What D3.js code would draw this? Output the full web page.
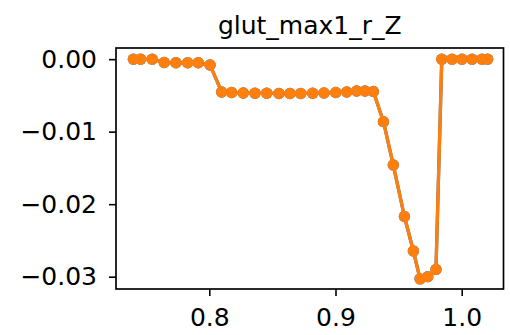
<!DOCTYPE html>
<html>
<head>
<meta charset="utf-8">
<script src="https://cdn.jsdelivr.net/npm/d3@7"></script>
<style>
  html, body { margin: 0; padding: 0; background: #fff; }
  svg { display: block; }
  text { font-family: "DejaVu Sans", sans-serif; fill: #000; }
</style>
</head>
<body>
<div id="chart"></div>
<script>
// ---- data ----
const title = "glut_max1_r_Z";
const xValues = [0.7399, 0.7456, 0.7548, 0.7643, 0.7736, 0.7829, 0.7913, 0.8006,
  0.8098, 0.8177, 0.8269, 0.8362, 0.8455, 0.8552, 0.8639, 0.8724, 0.8819, 0.8909,
  0.9002, 0.9089, 0.9168, 0.9234, 0.9300, 0.9380, 0.9458, 0.9546, 0.9617, 0.9670,
  0.9731, 0.9796, 0.9842, 0.9924, 1.0002, 1.0082, 1.0161, 1.0205];
const seriesA = [0.0, 0.0, 0.0, -0.00045, -0.0005, -0.0005, -0.0005, -0.0008,
  -0.00452, -0.0046, -0.00466, -0.0047, -0.0047, -0.00473, -0.00473, -0.00473, -0.0047, -0.00466,
  -0.0046, -0.00452, -0.0044, -0.0044, -0.00445, -0.00862, -0.0146, -0.0217, -0.02646, -0.0303,
  -0.0300, -0.0290, 0.0, 0.0, 0.0, 0.0, 0.0, 0.0];
const seriesB = seriesA.slice();
const xTicks = [0.8, 0.9, 1.0];
const yTicks = [0.0, -0.01, -0.02, -0.03];

// ---- layout ----
const W = 510, H = 335;
const L = 116, R = 503.5, T = 48, B = 289;
const FS = 25;

const svg = d3.select("#chart").append("svg").attr("width", W).attr("height", H);

const x = d3.scaleLinear().domain([0.7261, 1.0331]).range([L, R]);
const y = d3.scaleLinear().domain([-0.0317, 0.00154]).range([B, T]);

const clipId = "plotclip";
svg.append("defs").append("clipPath").attr("id", clipId)
  .append("rect").attr("x", L).attr("y", T).attr("width", R - L).attr("height", B - T);

const plot = svg.append("g").attr("clip-path", `url(#${clipId})`);

function drawSeries(vals, color) {
  const pts = xValues.map((xv, i) => [xv, vals[i]]);
  const line = d3.line().x(d => x(d[0])).y(d => y(d[1]));
  plot.append("path").datum(pts)
    .attr("d", line).attr("fill", "none").attr("stroke", color)
    .attr("stroke-width", 3.3).attr("stroke-linejoin", "round").attr("stroke-linecap", "square");
  plot.append("g").selectAll("circle").data(pts).join("circle")
    .attr("cx", d => x(d[0])).attr("cy", d => y(d[1])).attr("r", 5.7)
    .attr("fill", color);
}
drawSeries(seriesB, "#1f77b4");
drawSeries(seriesA, "#ff7f0e");

// ---- axes ----
const fmtY = d => (d < 0 ? "\u2212" : "") + Math.abs(d).toFixed(2);
const xAxis = d3.axisBottom(x).tickValues(xTicks).tickFormat(d3.format(".1f"))
  .tickSize(7).tickPadding(12);
const yAxis = d3.axisLeft(y).tickValues(yTicks).tickFormat(fmtY)
  .tickSize(7).tickPadding(12);

const gx = svg.append("g").attr("transform", `translate(0,${B})`).call(xAxis);
const gy = svg.append("g").attr("transform", `translate(${L},0)`).call(yAxis);
[gx, gy].forEach(g => {
  g.attr("font-size", null).attr("font-family", null);
  g.select(".domain").remove();
  g.selectAll(".tick line").attr("stroke", "#000").attr("stroke-width", 1.6);
  g.selectAll(".tick text").style("font-size", FS + "px").style("font-family", "'DejaVu Sans'").attr("fill", "#000");
});

// frame
svg.append("rect").attr("x", L).attr("y", T).attr("width", R - L).attr("height", B - T)
  .attr("fill", "none").attr("stroke", "#000").attr("stroke-width", 1.67);

// title
svg.append("text").attr("x", (L + R) / 2).attr("y", 33.5)
  .attr("text-anchor", "middle").style("font-size", FS + "px").text(title);
</script>
</body>
</html>
